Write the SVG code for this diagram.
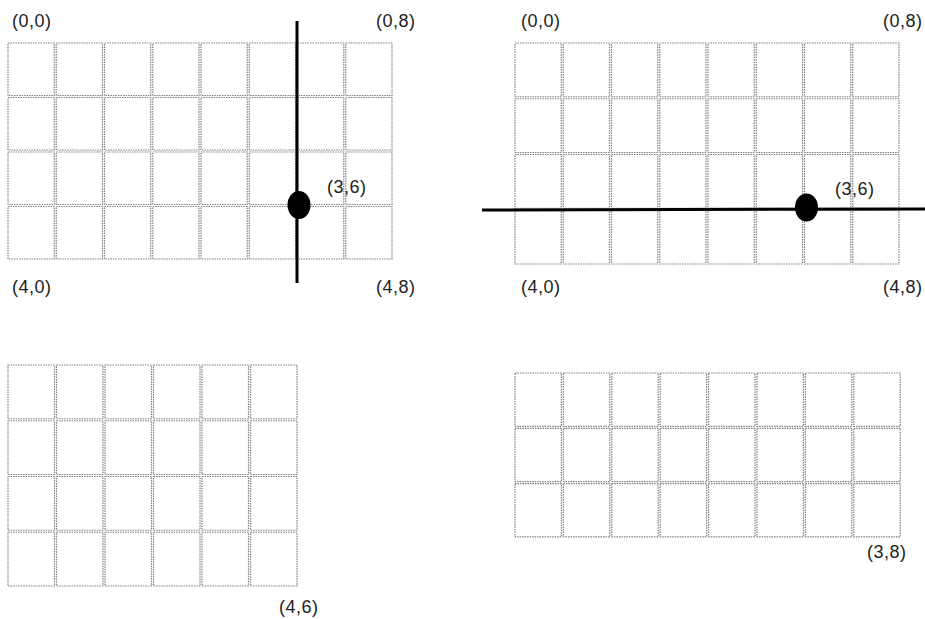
<svg xmlns="http://www.w3.org/2000/svg" xmlns:xlink="http://www.w3.org/1999/xlink" width="925" height="619" viewBox="0 0 925 619">
<style>
.cell{fill:none;stroke:#808080;stroke-width:1.2;stroke-dasharray:1.5 1}
.lbl{font-family:"Liberation Sans",Arial,sans-serif;font-size:18px;fill:#222;letter-spacing:0.5px}
.cut{stroke:#000;stroke-width:3;fill:none}
.pt{fill:#000}
</style>
<defs>
<rect id="cA" class="cell" width="46.25" height="52.5"/>
<rect id="cB" class="cell" width="46.25" height="53.75"/>
<rect id="cC" class="cell" width="46.5" height="53.75"/>
<rect id="cD" class="cell" width="46.4" height="53.3"/>
</defs>
<rect width="925" height="619" fill="#fff"/>

<g id="grid-top-left">
<use href="#cA" x="8" y="43"/><use href="#cA" x="56.25" y="43"/><use href="#cA" x="104.5" y="43"/><use href="#cA" x="152.75" y="43"/><use href="#cA" x="201" y="43"/><use href="#cA" x="249.25" y="43"/><use href="#cA" x="297.5" y="43"/><use href="#cA" x="345.75" y="43"/>
<use href="#cA" x="8" y="97.5"/><use href="#cA" x="56.25" y="97.5"/><use href="#cA" x="104.5" y="97.5"/><use href="#cA" x="152.75" y="97.5"/><use href="#cA" x="201" y="97.5"/><use href="#cA" x="249.25" y="97.5"/><use href="#cA" x="297.5" y="97.5"/><use href="#cA" x="345.75" y="97.5"/>
<use href="#cA" x="8" y="152"/><use href="#cA" x="56.25" y="152"/><use href="#cA" x="104.5" y="152"/><use href="#cA" x="152.75" y="152"/><use href="#cA" x="201" y="152"/><use href="#cA" x="249.25" y="152"/><use href="#cA" x="297.5" y="152"/><use href="#cA" x="345.75" y="152"/>
<use href="#cA" x="8" y="206.5"/><use href="#cA" x="56.25" y="206.5"/><use href="#cA" x="104.5" y="206.5"/><use href="#cA" x="152.75" y="206.5"/><use href="#cA" x="201" y="206.5"/><use href="#cA" x="249.25" y="206.5"/><use href="#cA" x="297.5" y="206.5"/><use href="#cA" x="345.75" y="206.5"/>
<text class="lbl" x="12" y="27">(0,0)</text>
<text class="lbl" x="376" y="27">(0,8)</text>
<text class="lbl" x="12" y="293">(4,0)</text>
<text class="lbl" x="376" y="293">(4,8)</text>
<text class="lbl" x="327" y="193">(3,6)</text>
</g>

<g id="grid-top-right">
<use href="#cB" x="515" y="43"/><use href="#cB" x="563.25" y="43"/><use href="#cB" x="611.5" y="43"/><use href="#cB" x="659.75" y="43"/><use href="#cB" x="708" y="43"/><use href="#cB" x="756.25" y="43"/><use href="#cB" x="804.5" y="43"/><use href="#cB" x="852.75" y="43"/>
<use href="#cB" x="515" y="98.75"/><use href="#cB" x="563.25" y="98.75"/><use href="#cB" x="611.5" y="98.75"/><use href="#cB" x="659.75" y="98.75"/><use href="#cB" x="708" y="98.75"/><use href="#cB" x="756.25" y="98.75"/><use href="#cB" x="804.5" y="98.75"/><use href="#cB" x="852.75" y="98.75"/>
<use href="#cB" x="515" y="154.5"/><use href="#cB" x="563.25" y="154.5"/><use href="#cB" x="611.5" y="154.5"/><use href="#cB" x="659.75" y="154.5"/><use href="#cB" x="708" y="154.5"/><use href="#cB" x="756.25" y="154.5"/><use href="#cB" x="804.5" y="154.5"/><use href="#cB" x="852.75" y="154.5"/>
<use href="#cB" x="515" y="210.25"/><use href="#cB" x="563.25" y="210.25"/><use href="#cB" x="611.5" y="210.25"/><use href="#cB" x="659.75" y="210.25"/><use href="#cB" x="708" y="210.25"/><use href="#cB" x="756.25" y="210.25"/><use href="#cB" x="804.5" y="210.25"/><use href="#cB" x="852.75" y="210.25"/>
<text class="lbl" x="521" y="27">(0,0)</text>
<text class="lbl" x="883" y="27">(0,8)</text>
<text class="lbl" x="521" y="293">(4,0)</text>
<text class="lbl" x="883" y="293">(4,8)</text>
<text class="lbl" x="835" y="195">(3,6)</text>
</g>

<g id="grid-bottom-left">
<use href="#cC" x="8" y="365"/><use href="#cC" x="56.5" y="365"/><use href="#cC" x="105" y="365"/><use href="#cC" x="153.5" y="365"/><use href="#cC" x="202" y="365"/><use href="#cC" x="250.5" y="365"/>
<use href="#cC" x="8" y="420.75"/><use href="#cC" x="56.5" y="420.75"/><use href="#cC" x="105" y="420.75"/><use href="#cC" x="153.5" y="420.75"/><use href="#cC" x="202" y="420.75"/><use href="#cC" x="250.5" y="420.75"/>
<use href="#cC" x="8" y="476.5"/><use href="#cC" x="56.5" y="476.5"/><use href="#cC" x="105" y="476.5"/><use href="#cC" x="153.5" y="476.5"/><use href="#cC" x="202" y="476.5"/><use href="#cC" x="250.5" y="476.5"/>
<use href="#cC" x="8" y="532.25"/><use href="#cC" x="56.5" y="532.25"/><use href="#cC" x="105" y="532.25"/><use href="#cC" x="153.5" y="532.25"/><use href="#cC" x="202" y="532.25"/><use href="#cC" x="250.5" y="532.25"/>
<text class="lbl" x="279" y="613">(4,6)</text>
</g>

<g id="grid-bottom-right">
<use href="#cD" x="515" y="373"/><use href="#cD" x="563.4" y="373"/><use href="#cD" x="611.8" y="373"/><use href="#cD" x="660.2" y="373"/><use href="#cD" x="708.6" y="373"/><use href="#cD" x="757" y="373"/><use href="#cD" x="805.4" y="373"/><use href="#cD" x="853.8" y="373"/>
<use href="#cD" x="515" y="428.3"/><use href="#cD" x="563.4" y="428.3"/><use href="#cD" x="611.8" y="428.3"/><use href="#cD" x="660.2" y="428.3"/><use href="#cD" x="708.6" y="428.3"/><use href="#cD" x="757" y="428.3"/><use href="#cD" x="805.4" y="428.3"/><use href="#cD" x="853.8" y="428.3"/>
<use href="#cD" x="515" y="483.6"/><use href="#cD" x="563.4" y="483.6"/><use href="#cD" x="611.8" y="483.6"/><use href="#cD" x="660.2" y="483.6"/><use href="#cD" x="708.6" y="483.6"/><use href="#cD" x="757" y="483.6"/><use href="#cD" x="805.4" y="483.6"/><use href="#cD" x="853.8" y="483.6"/>
<text class="lbl" x="867" y="558">(3,8)</text>
</g>

<g id="connectors">
<line class="cut" x1="297" y1="21" x2="297" y2="283"/>
<ellipse class="pt" cx="299" cy="205" rx="11.5" ry="14"/>
<line class="cut" x1="482" y1="210" x2="925" y2="209"/>
<ellipse class="pt" cx="806.5" cy="207.5" rx="11.5" ry="14"/>
</g>
</svg>
